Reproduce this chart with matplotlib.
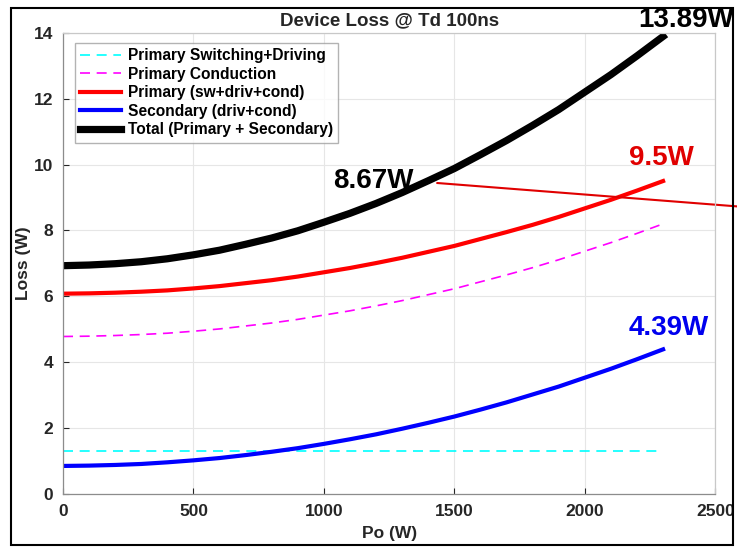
import matplotlib
matplotlib.use("Agg")
import matplotlib.pyplot as plt
from matplotlib.patches import Rectangle

plt.rcParams['font.family'] = ['Liberation Sans', 'DejaVu Sans']
plt.rcParams['font.weight'] = 'bold'

# output power sweep (W)
po = [0, 100, 200, 300, 400, 500, 600, 700, 800, 900, 1000, 1100,
      1200, 1300, 1400, 1500, 1600, 1700, 1800, 1900, 2000, 2100, 2200, 2300]

# primary switching + driving loss is flat over load
pri_sw_drv = [1.30] * len(po)
pri_cond = [4.78, 4.79, 4.81, 4.84, 4.88, 4.94, 5.01, 5.10, 5.19, 5.30, 5.43, 5.56,
            5.71, 5.87, 6.05, 6.23, 6.44, 6.65, 6.87, 7.11, 7.37, 7.63, 7.91, 8.20]
sec_loss = [0.85, 0.86, 0.88, 0.91, 0.96, 1.02, 1.09, 1.18, 1.28, 1.39, 1.52, 1.66,
            1.81, 1.98, 2.16, 2.35, 2.56, 2.78, 3.02, 3.26, 3.53, 3.80, 4.09, 4.39]
pri_loss = [a + b for a, b in zip(pri_sw_drv, pri_cond)]
total_loss = [a + b for a, b in zip(pri_loss, sec_loss)]

xticks = [0, 500, 1000, 1500, 2000, 2500]
yticks = [0, 2, 4, 6, 8, 10, 12, 14]

axcol = '#262626'

fig = plt.figure(figsize=(7.37, 5.47), dpi=100)
ax = fig.add_axes([0.0855, 0.097, 0.885, 0.843])

ax.plot(po, pri_sw_drv, color='#00ffff', lw=1.2, linestyle=(0, (6, 4)),
        label='Primary Switching+Driving')
ax.plot(po, pri_cond, color='#ff00ff', lw=1.2, linestyle=(0, (6, 4)),
        label='Primary Conduction')
ax.plot(po, pri_loss, color='#ff0000', lw=3, label='Primary (sw+driv+cond)')
ax.plot(po, sec_loss, color='#0000ff', lw=3, label='Secondary (driv+cond)')
ax.plot(po, total_loss, color='black', lw=5.2, label='Total (Primary + Secondary)')

ax.set_xlim(0, 2500)
ax.set_ylim(0, 14)
ax.set_xticks(xticks)
ax.set_yticks(yticks)
ax.grid(True, color='#e6e6e6', lw=0.8)
ax.set_axisbelow(True)
ax.tick_params(direction='in', length=4, colors=axcol, labelsize=12.5, pad=7)
for lab in ax.get_xticklabels() + ax.get_yticklabels():
    lab.set_fontweight('bold')
for s in ax.spines.values():
    s.set_color('#8c8c8c')
    s.set_linewidth(0.9)
ax.spines['top'].set_color('#c8c8c8')
ax.spines['right'].set_color('#c8c8c8')

ax.set_xlabel('Po (W)', fontsize=12.5, fontweight='bold', color=axcol, labelpad=5)
ax.set_ylabel('Loss (W)', fontsize=12.5, fontweight='bold', color=axcol, labelpad=2)
ax.set_title('Device Loss @ Td 100ns', fontsize=13.5, fontweight='bold', color=axcol, pad=5.5)

leg = ax.legend(loc='upper left', bbox_to_anchor=(0.018, 0.978), fontsize=11.2,
                frameon=True, fancybox=False, handlelength=2.6, borderpad=0.35,
                labelspacing=0.22, handletextpad=0.45, borderaxespad=0)
leg.get_frame().set_edgecolor('#a0a0a0')
leg.get_frame().set_linewidth(1.0)
for t in leg.get_texts():
    t.set_fontweight('bold')

# value callouts
ax.text(2389, 14.18, f'{total_loss[-1]:.2f}W', fontsize=20,
        fontweight='bold', color='black', ha='center', va='baseline', clip_on=False)
ax.text(2293, 9.99, f'{pri_loss[-1]:.1f}W', fontsize=20,
        fontweight='bold', color='#e00000', ha='center', va='baseline')
ax.text(2320, 4.83, f'{sec_loss[-1]:.2f}W', fontsize=20,
        fontweight='bold', color='#0000ee', ha='center', va='baseline')
ax.text(1189, 9.29, '8.67W', fontsize=20, fontweight='bold', color='black',
        ha='center', va='baseline')
ax.plot([1435, 2600], [9.44, 8.72], color='#e00000', lw=1.5, clip_on=False)

fig.patches.append(Rectangle((11 / 737, 2 / 547), 722 / 737, 537 / 547,
                             transform=fig.transFigure, fill=False,
                             edgecolor='black', lw=1.5))

fig.savefig('out.png', dpi=100)
